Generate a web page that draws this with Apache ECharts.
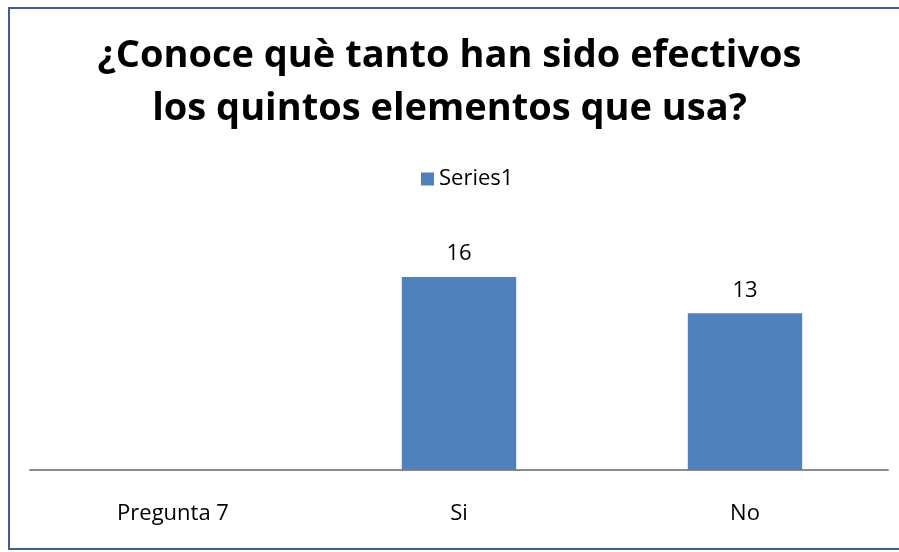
<!DOCTYPE html>
<html><head><meta charset="utf-8">
<script src="https://cdn.jsdelivr.net/npm/echarts@6/dist/echarts.min.js"></script>
<style>html,body{margin:0;padding:0;background:#fff}#c{width:899px;height:552px}</style>
</head><body><div id="c"></div>
<script>
const titleText = "¿Conoce què tanto han sido efectivos\nlos quintos elementos que usa?";
const categories = ["Pregunta 7", "Si", "No"];
const seriesName = "Series1";
const values = [null, 16, 13];

const chart = echarts.init(document.getElementById('c'));
chart.setOption({
  backgroundColor: '#fff',
  graphic: [{
    type: 'rect', shape: {x: 9, y: 8, width: 900, height: 541},
    style: {fill: 'none', stroke: '#3f5f8f', lineWidth: 2}, silent: true
  }],
  title: {
    text: titleText, left: 'center', top: 25,
    textStyle: {fontFamily: 'Open Sans', fontWeight: 'bold', fontSize: 38, lineHeight: 53, color: '#000'}
  },
  legend: {
    data: [seriesName], top: 163, left: 416, itemWidth: 13, itemHeight: 13, itemGap: 5,
    textStyle: {fontFamily: 'Open Sans', fontSize: 22, color: '#000'}, icon: 'rect'
  },
  grid: {left: 30, right: 11, top: 253, bottom: 82, containLabel: false},
  xAxis: {
    type: 'category', data: categories,
    axisLine: {lineStyle: {color: '#8c8c8c', width: 2}},
    axisTick: {show: false},
    axisLabel: {fontFamily: 'Open Sans', fontSize: 22, color: '#000', margin: 33}
  },
  yAxis: {type: 'value', min: 0, max: 18, interval: 2, show: false, splitLine: {show: false}},
  series: [{
    name: seriesName, type: 'bar', data: values, barWidth: '40%',
    itemStyle: {color: '#4f81bd'},
    label: {show: true, position: 'top', distance: 12, fontFamily: 'Open Sans', fontSize: 22, color: '#000'}
  }]
});
</script></body></html>
